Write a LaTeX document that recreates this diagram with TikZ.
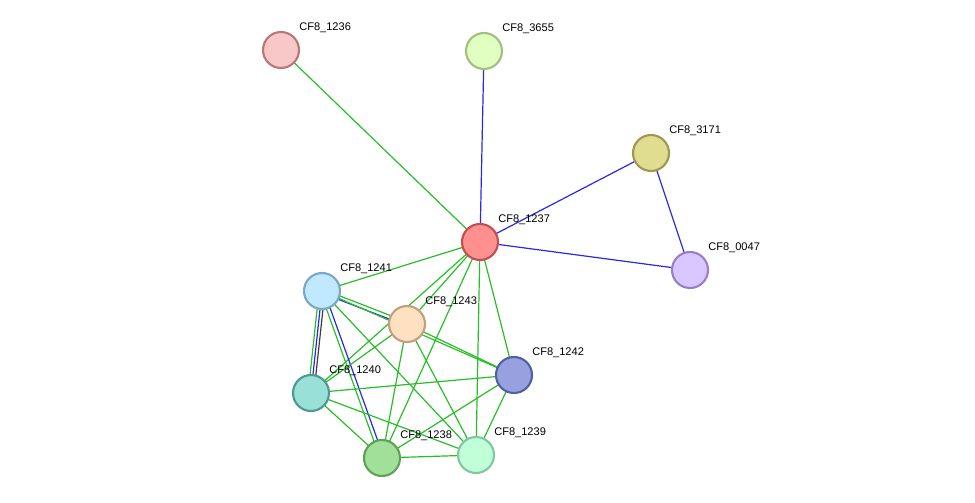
\documentclass[tikz,border=0pt]{standalone}
\usepackage{fontspec}
\setmainfont{Liberation Sans}
\begin{document}
\begin{tikzpicture}[x=0.75pt,y=-0.75pt,
  nd/.style={circle,draw,line width=1.6pt,minimum size=27pt,inner sep=0pt},
  lb/.style={font=\fontsize{8.3}{9}\selectfont,anchor=west,inner sep=0pt},
  ge/.style={draw={rgb,255:red,40;green,190;blue,40},line width=0.9pt},
  be/.style={draw={rgb,255:red,40;green,40;blue,230},line width=0.9pt},
  ke/.style={draw={rgb,255:red,60;green,60;blue,60},line width=0.9pt}]
\useasboundingbox (0,0) rectangle (975,503);
\definecolor{f1}{HTML}{F8C8C8}\definecolor{b1}{HTML}{B87878}
\definecolor{f2}{HTML}{E0FFC0}\definecolor{b2}{HTML}{A0C080}
\definecolor{f3}{HTML}{E0DC90}\definecolor{b3}{HTML}{A09850}
\definecolor{f4}{HTML}{FF9090}\definecolor{b4}{HTML}{C05050}
\definecolor{f5}{HTML}{D8C8FF}\definecolor{b5}{HTML}{9880C8}
\definecolor{f6}{HTML}{C0E8FF}\definecolor{b6}{HTML}{78A8C8}
\definecolor{f7}{HTML}{FFE0C0}\definecolor{b7}{HTML}{C0A080}
\definecolor{f8}{HTML}{98A0E0}\definecolor{b8}{HTML}{5060A0}
\definecolor{f9}{HTML}{98E0D8}\definecolor{b9}{HTML}{509890}
\definecolor{f10}{HTML}{A0E098}\definecolor{b10}{HTML}{60A058}
\definecolor{f11}{HTML}{C0FFD8}\definecolor{b11}{HTML}{80C8A0}
\coordinate (p1236) at (281,50);
\coordinate (p3655) at (484,51);
\coordinate (p3171) at (651,153);
\coordinate (p1237) at (480,242);
\coordinate (p0047) at (690,270);
\coordinate (p1241) at (322,291);
\coordinate (p1243) at (407,324);
\coordinate (p1242) at (514,375);
\coordinate (p1240) at (311,393);
\coordinate (p1238) at (382,458);
\coordinate (p1239) at (476,455);
% edges
\path[ge] (p1237)--(p1236);
\path[be] (p1237)--(p3655);
\path[be] (p1237)--(p3171);
\path[be] (p1237)--(p0047);
\path[be] (p3171)--(p0047);
\foreach \t in {1241,1243,1240,1238,1239,1242} \path[ge] (p1237)--(p\t);
\path[be] ([yshift=-1.5]p1241)--([yshift=-1.5]p1243);
\path[ge] ([yshift=1.5]p1241)--([yshift=1.5]p1243);
\path[ge] (p1241)--(p1242);
\path[ge] ([xshift=-2.2]p1241)--([xshift=-2.2]p1240);
\path[be] (p1241)--(p1240);
\path[ke] ([xshift=2.2]p1241)--([xshift=2.2]p1240);
\path[ge] ([xshift=-1.5]p1241)--([xshift=-1.5]p1238);
\path[be] ([xshift=1.5]p1241)--([xshift=1.5]p1238);
\path[ge] (p1241)--(p1239);
\foreach \t in {1240,1238,1239,1242} \path[ge] (p1243)--(p\t);
\foreach \t in {1238,1239,1242} \path[ge] (p1240)--(p\t);
\path[ge] (p1238)--(p1239);
\path[ge] (p1238)--(p1242);
\path[ge] (p1239)--(p1242);
% nodes
\foreach \n/\c in {1236/1,3655/2,3171/3,1237/4,0047/5,1241/6,1243/7,1242/8,1240/9,1238/10,1239/11}{
  \node[nd,fill=f\c,draw=b\c] (n\n) at (p\n) {};
  \node[lb] (l\n) at ([shift={(18,-22)}]p\n) {CF8\_\n};
}
\end{tikzpicture}
\end{document}
